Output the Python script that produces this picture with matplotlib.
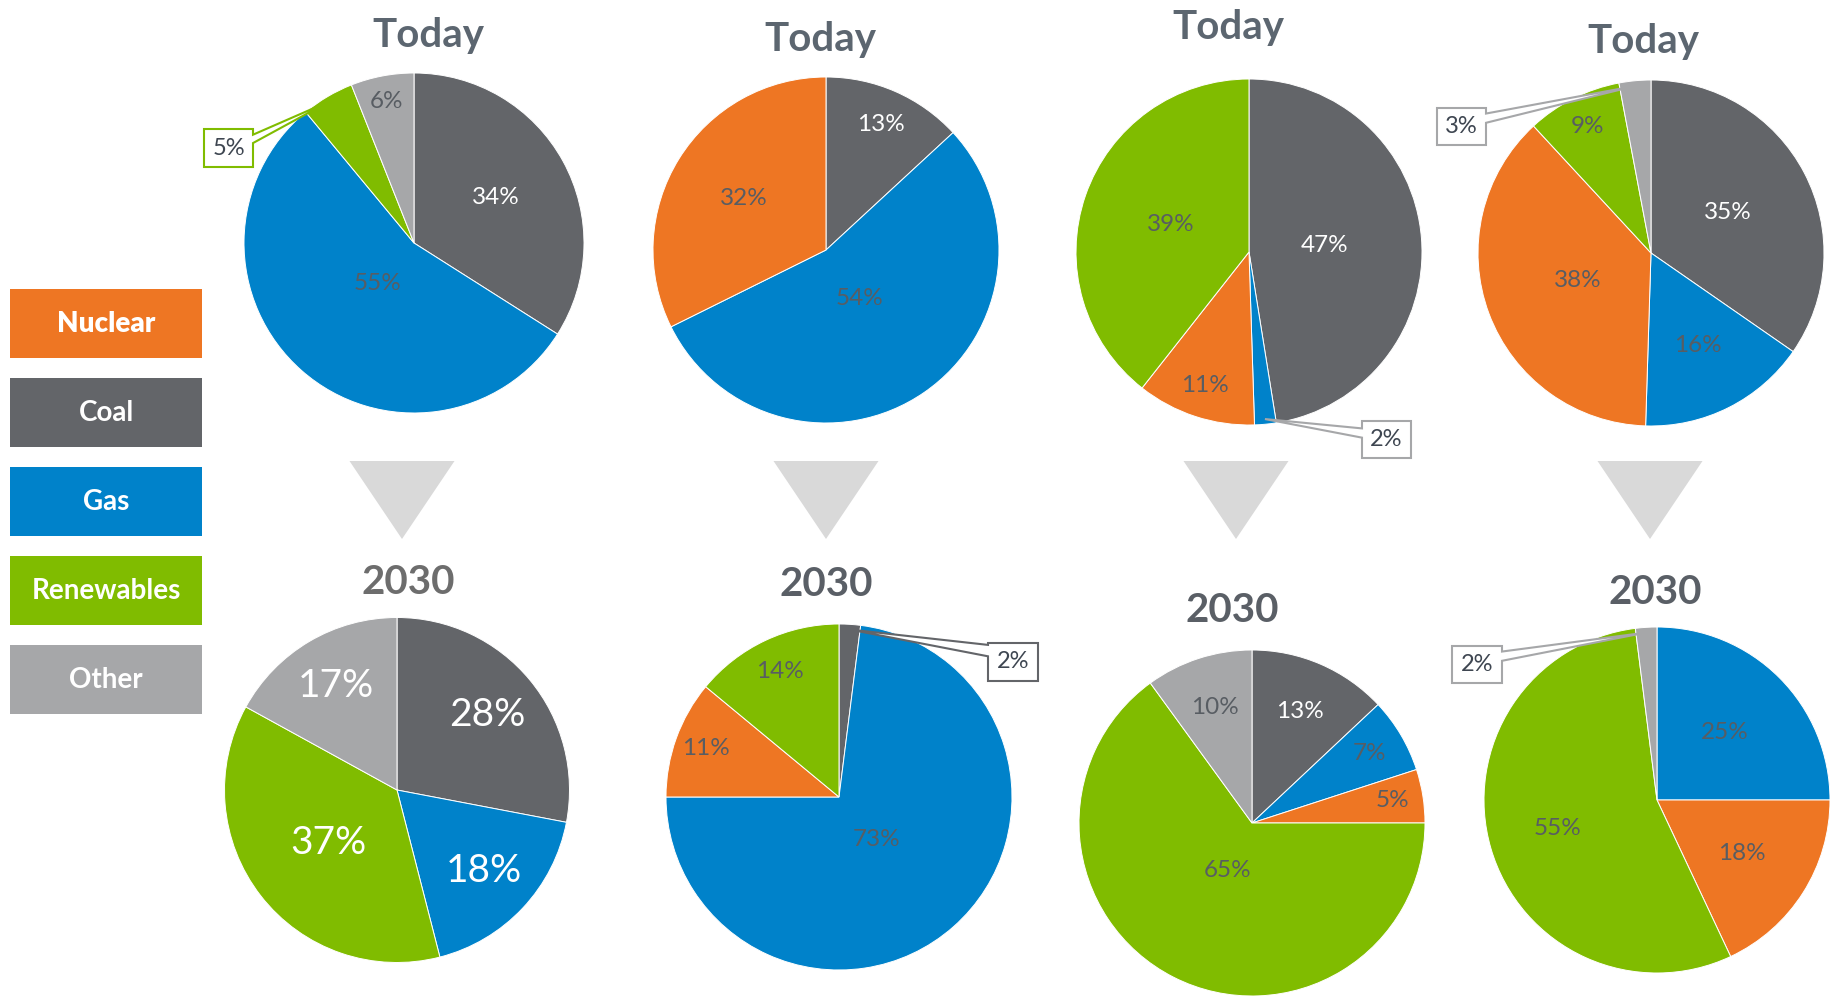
import matplotlib.pyplot as plt
import numpy as np
from matplotlib.patches import Rectangle, Polygon

plt.rcParams['font.family'] = ['Lato', 'DejaVu Sans']

W, H = 1837, 996

colors = {'Nuclear': '#EE7623', 'Coal': '#636569', 'Gas': '#0082CA',
          'Renewables': '#80BC00', 'Other': '#A6A7A9'}
legend_items = ['Nuclear', 'Coal', 'Gas', 'Renewables', 'Other']

# slices listed clockwise from 12 o'clock
today1_cats = ['Coal', 'Gas', 'Renewables', 'Other']
today1_vals = [34, 55, 5, 6]
today2_cats = ['Coal', 'Gas', 'Nuclear']
today2_vals = [13, 54, 32]
today3_cats = ['Coal', 'Gas', 'Nuclear', 'Renewables']
today3_vals = [47, 2, 11, 39]
today4_cats = ['Coal', 'Gas', 'Nuclear', 'Renewables', 'Other']
today4_vals = [35, 16, 38, 9, 3]

y2030_1_cats = ['Coal', 'Gas', 'Renewables', 'Other']
y2030_1_vals = [28, 18, 37, 17]
y2030_2_cats = ['Coal', 'Gas', 'Nuclear', 'Renewables']
y2030_2_vals = [2, 73, 11, 14]
y2030_3_cats = ['Coal', 'Gas', 'Nuclear', 'Renewables', 'Other']
y2030_3_vals = [13, 7, 5, 65, 10]
y2030_4_cats = ['Gas', 'Nuclear', 'Renewables', 'Other']
y2030_4_vals = [25, 18, 55, 2]

titles = ['Today'] * 4 + ['2030'] * 4

# layout (pixel coords, y from top): center, radius, label distances, title pos
pies = [
    (today1_cats, today1_vals, (414, 243), 170, [0.55, 0.32, None, 0.85], (428, 35)),
    (today2_cats, today2_vals, (826, 250), 173, [0.79, 0.34, 0.56], (820, 39)),
    (today3_cats, today3_vals, (1249, 252), 173, [0.44, None, 0.81, 0.48], (1228, 27)),
    (today4_cats, today4_vals, (1651, 253), 173, [0.5, 0.6, 0.45, 0.82, None], (1643, 41)),
    (y2030_1_cats, y2030_1_vals, (397, 790), 172.5, [0.68, 0.69, 0.5, 0.7], (408, 582)),
    (y2030_2_cats, y2030_2_vals, (839, 797), 173, [None, 0.33, 0.82, 0.8], (826, 584)),
    (y2030_3_cats, y2030_3_vals, (1252, 823), 173, [0.7, 0.79, 0.82, 0.31, 0.7], (1232, 610)),
    (y2030_4_cats, y2030_4_vals, (1657, 800), 173, [0.55, 0.58, 0.6, None], (1655, 592)),
]

# callouts: pie index, slice index, box (x0, y0, x1, y1), side, attach fractions, edge colour
callouts = [
    (0, 2, (204, 129, 253, 167), 'right', (0.15, 0.37), '#80BC00'),
    (2, 1, (1362, 421, 1411, 458), 'left', (0.2, 0.45), '#A6A7A9'),
    (3, 4, (1437, 108, 1486, 145), 'right', (0.15, 0.4), '#A6A7A9'),
    (5, 0, (988, 643, 1038, 681), 'left', (0.05, 0.35), '#636569'),
    (7, 3, (1452, 646, 1502, 683), 'right', (0.15, 0.4), '#A6A7A9'),
]

label_grey = '#585d63'
title_colors = ['#5c6670'] * 4 + ['#6d6d6d', '#5a5f66', '#5a5f66', '#5a5f66']


def fy(y):
    return H - y


fig = plt.figure(figsize=(W / 100, H / 100), dpi=100)
ax = fig.add_axes([0, 0, 1, 1])

all_wedges = []
for i, (cats, vals, c, r, dists, tpos) in enumerate(pies):
    cx, cy = c[0], fy(c[1])
    wedges, _ = ax.pie(vals, colors=[colors[k] for k in cats], startangle=90,
                       counterclock=False, center=(cx, cy), radius=r,
                       wedgeprops=dict(edgecolor='white', linewidth=0.7))
    all_wedges.append(wedges)
    big = (i == 4)
    for w, v, k, d in zip(wedges, vals, cats, dists):
        if d is None:
            continue
        mid = np.deg2rad((w.theta1 + w.theta2) / 2)
        tc = 'white' if (k == 'Coal' or big) else label_grey
        ax.text(cx + d * r * np.cos(mid), cy + d * r * np.sin(mid), f'{v}%',
                ha='center', va='center', fontsize=28 if big else 17.5, color=tc)
    ax.text(tpos[0], fy(tpos[1]), titles[i], ha='center', va='center',
            fontsize=29, fontweight='bold', color=title_colors[i])

# callout boxes for the thin slices
for pi, si, box, side, (fa, fb), ec in callouts:
    cats, vals, c, r = pies[pi][0], pies[pi][1], pies[pi][2], pies[pi][3]
    w = all_wedges[pi][si]
    mid = np.deg2rad((w.theta1 + w.theta2) / 2)
    tip = (c[0] + 0.97 * r * np.cos(mid), fy(c[1]) + 0.97 * r * np.sin(mid))
    x0, y0, x1, y1 = box
    ya = fy(y0 + fa * (y1 - y0))
    yb = fy(y0 + fb * (y1 - y0))
    if side == 'right':
        pts = [(x0, fy(y0)), (x1, fy(y0)), (x1, ya), tip, (x1, yb),
               (x1, fy(y1)), (x0, fy(y1))]
    else:
        pts = [(x0, fy(y0)), (x1, fy(y0)), (x1, fy(y1)), (x0, fy(y1)),
               (x0, yb), tip, (x0, ya)]
    ax.add_patch(Polygon(pts, closed=True, facecolor='white', edgecolor=ec,
                         linewidth=1.5, zorder=5))
    ax.text((x0 + x1) / 2, fy((y0 + y1) / 2), f'{vals[si]}%', ha='center',
            va='center', fontsize=17, color='#3e4651', zorder=6)

# down arrows between rows
for tx in [402, 826, 1236, 1650]:
    ax.add_patch(Polygon([(tx - 52.5, fy(461)), (tx + 52.5, fy(461)), (tx, fy(539))],
                         closed=True, facecolor='#D9D9D9', edgecolor='none'))

# legend boxes
for j, name in enumerate(legend_items):
    top = 289 + j * 89
    ax.add_patch(Rectangle((10, fy(top + 69)), 192, 69, facecolor=colors[name],
                           edgecolor='none'))
    ax.text(106, fy(top + 34.5), name, ha='center', va='center', fontsize=20,
            color='white', fontweight='heavy' if name == 'Nuclear' else 'bold')

ax.set_xlim(0, W)
ax.set_ylim(0, H)
ax.set_aspect('equal')
ax.axis('off')

fig.savefig('out.png', dpi=100)
